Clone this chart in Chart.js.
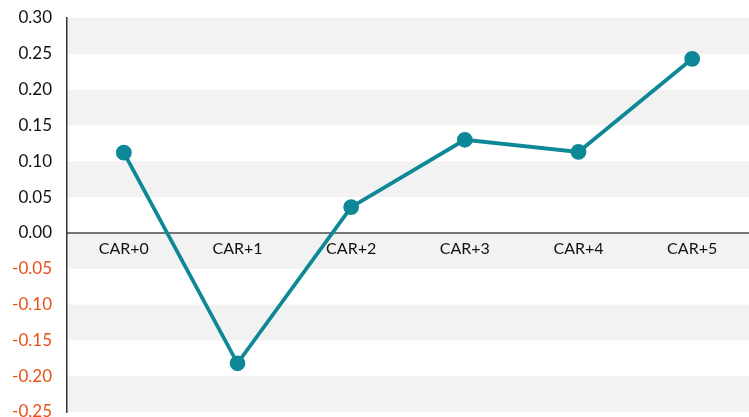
<!DOCTYPE html>
<html>
<head>
<meta charset="utf-8">
<script src="https://cdn.jsdelivr.net/npm/chart.js@4/dist/chart.umd.min.js"></script>
<style>
  html, body { margin: 0; padding: 0; background: #fff; overflow: hidden; }
  #wrap { width: 749px; height: 417px; }
</style>
</head>
<body>
<div id="wrap"><canvas id="car"></canvas></div>
<script>
const categories = ["CAR+0", "CAR+1", "CAR+2", "CAR+3", "CAR+4", "CAR+5"];
const carValues = [0.112, -0.182, 0.036, 0.130, 0.113, 0.243];
const yTicks = [0.30, 0.25, 0.20, 0.15, 0.10, 0.05, 0.00, -0.05, -0.10, -0.15, -0.20, -0.25];

// alternating grey bands behind everything
const bands = {
  id: "bands",
  beforeDraw(chart) {
    const { ctx, chartArea, scales } = chart;
    const y = scales.y;
    ctx.save();
    ctx.fillStyle = "#f2f2f2";
    for (let i = 0; i < yTicks.length - 1; i += 2) {
      const top = y.getPixelForValue(yTicks[i]);
      const bot = y.getPixelForValue(yTicks[i + 1]);
      ctx.fillRect(chartArea.left, top, chartArea.right - chartArea.left, bot - top);
    }
    ctx.restore();
  }
};

const ctx = document.getElementById("car").getContext("2d");
new Chart(ctx, {
  type: "line",
  data: {
    labels: categories,
    datasets: [{
      data: carValues,
      borderColor: "#0e8797",
      backgroundColor: "#0e8797",
      borderWidth: 3.8,
      pointRadius: 6,
      pointHoverRadius: 6,
      tension: 0
    }]
  },
  options: {
    responsive: true,
    maintainAspectRatio: false,
    animation: false,
    layout: { autoPadding: false, padding: { top: 18, right: -6, bottom: 5, left: 0 } },
    plugins: { legend: { display: false }, tooltip: { enabled: false } },
    scales: {
      x: {
        position: { y: 0 },
        offset: true,
        grid: { display: false, drawTicks: false },
        border: { display: true, color: "#777", width: 2 },
        ticks: { color: "#111", font: { family: "Lato", size: 16 }, padding: 6 },
        afterFit(scale) {
          scale.paddingLeft = 0;
          scale.paddingRight = 0;
        }
      },
      y: {
        min: -0.25,
        max: 0.30,
        afterBuildTicks(scale) {
          scale.ticks = yTicks.map(v => ({ value: v }));
        },
        afterFit(scale) {
          scale.width = 67;
          scale.paddingTop = 0;
          scale.paddingBottom = 0;
        },
        grid: { display: false, drawTicks: false },
        border: { display: true, color: "#333", width: 1.5 },
        ticks: {
          padding: 15,
          font: { family: "Lato", size: 17 },
          color: c => (c.tick && c.tick.value < 0 ? "#e8501a" : "#111"),
          callback: v => v.toFixed(2)
        }
      }
    }
  },
  plugins: [bands]
});
</script>
</body>
</html>
